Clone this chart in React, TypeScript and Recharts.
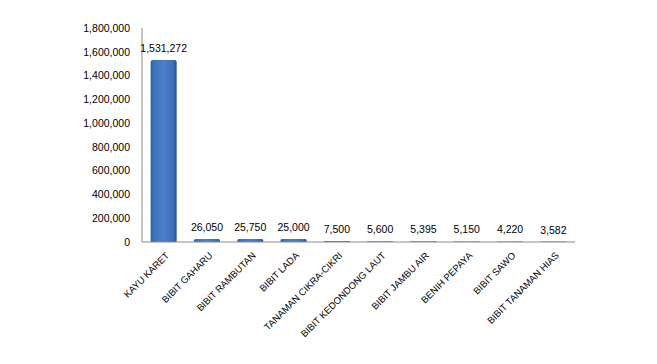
import { BarChart, Bar, XAxis, YAxis, LabelList, Cell } from 'recharts'

const categories = [
  'KAYU KARET',
  'BIBIT GAHARU',
  'BIBIT RAMBUTAN',
  'BIBIT LADA',
  'TANAMAN CIKRA-CIKRI',
  'BIBIT KEDONDONG LAUT',
  'BIBIT JAMBU AIR',
  'BENIH PEPAYA',
  'BIBIT SAWO',
  'BIBIT TANAMAN HIAS',
]
const values = [1531272, 26050, 25750, 25000, 7500, 5600, 5395, 5150, 4220, 3582]
const yTicks = [0, 200000, 400000, 600000, 800000, 1000000, 1200000, 1400000, 1600000, 1800000]

const data = categories.map((name, i) => ({ name, value: values[i] }))

const font = '"Liberation Sans", Arial, sans-serif'
const fmt = (v: number) => v.toLocaleString('en-US')

const CategoryTick = (props: { x?: number; y?: number; payload?: { value: string } }) => {
  const { x = 0, y = 0, payload } = props
  return (
    <g transform={`translate(${x + 4},${y + 10})`}>
      <text
        transform="rotate(-45)"
        textAnchor="end"
        fontSize={9.5}
        fontFamily={font}
        fill="#000"
        dy={3}
      >
        {payload?.value}
      </text>
    </g>
  )
}

export default function App() {
  return (
    <BarChart
      width={649}
      height={356}
      data={data}
      margin={{ top: 20, right: 82, left: 0, bottom: 0 }}
      barCategoryGap="20%"
    >
      <defs>
        <linearGradient id="barFill" x1="0" y1="0" x2="1" y2="0">
          <stop offset="0%" stopColor="#2a5a9c" />
          <stop offset="12%" stopColor="#3c72bd" />
          <stop offset="50%" stopColor="#4a80c8" />
          <stop offset="88%" stopColor="#3a6db5" />
          <stop offset="100%" stopColor="#24508c" />
        </linearGradient>
      </defs>
      <XAxis
        dataKey="name"
        interval={0}
        tickLine={false}
        tickSize={0}
        axisLine={{ stroke: '#8c8c8c' }}
        tick={<CategoryTick />}
        height={122}
      />
      <YAxis
        width={134}
        domain={[0, 1800000]}
        ticks={yTicks}
        interval={0}
        tickLine={false}
        tickSize={6}
        tickMargin={6}
        axisLine={{ stroke: '#8c8c8c' }}
        tickFormatter={fmt}
        tick={{ fill: '#000', fontSize: 10.5, fontFamily: font }}
      />
      <Bar dataKey="value" isAnimationActive={false} radius={[2, 2, 0, 0]}>
        {data.map((d) => (
          <Cell key={d.name} fill="url(#barFill)" />
        ))}
        <LabelList
          dataKey="value"
          position="top"
          offset={8}
          formatter={(v: number) => fmt(v)}
          style={{ fill: '#000', fontSize: 10.5, fontFamily: font }}
        />
      </Bar>
    </BarChart>
  )
}
